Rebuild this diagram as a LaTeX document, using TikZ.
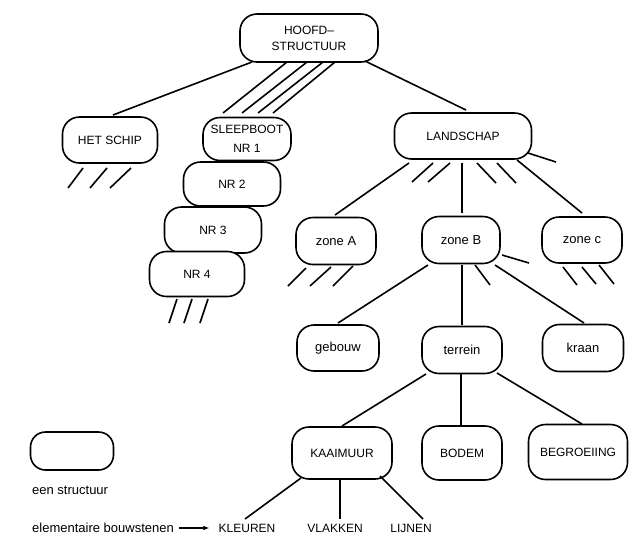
\documentclass[tikz,border=0pt]{standalone}
\usepackage{fontspec}
\setmainfont{Liberation Sans}
\usetikzlibrary{calc,arrows.meta}

\tikzset{
  struct/.style={draw, fill=white, rounded corners=17pt, line width=1.6pt,
    inner sep=0pt, align=center, font=\fontsize{12}{16}\selectfont},
  lower/.style={font=\fontsize{13}{16}\selectfont},
  label/.style={inner sep=0pt, font=\fontsize{12}{14}\selectfont},
  edge/.style={line width=1.6pt},
}

\begin{document}
\begin{tikzpicture}[x=1pt, y=-1pt]
\useasboundingbox (0,0) rectangle (637,539);

% top level
\node[struct, minimum width=138pt, minimum height=48pt] (hoofd) at (309,38) {HOOFD--\\STRUCTUUR};
\node[struct, minimum width=95pt, minimum height=46pt] (schip) at (110,140) {HET SCHIP};
\node[struct, minimum width=137pt, minimum height=46pt] (land) at (463,136) {LANDSCHAP};

% the tugboats, stacked
\node[struct, minimum width=88pt, minimum height=43pt, font=\fontsize{12}{19}\selectfont] (s1) at (247,139) {SLEEPBOOT\\NR 1};
\node[struct, minimum width=97pt, minimum height=44pt] (s2) at (232,184) {NR 2};
\node[struct, minimum width=97pt, minimum height=46pt] (s3) at (213,230) {NR 3};
\node[struct, minimum width=95pt, minimum height=45pt] (s4) at (197,274) {NR 4};

% zones
\node[struct, lower, minimum width=80pt, minimum height=47pt] (za) at (336,241) {zone A};
\node[struct, lower, minimum width=78pt, minimum height=47pt] (zb) at (461,240) {zone B};
\node[struct, lower, minimum width=80pt, minimum height=46pt] (zc) at (582,240) {zone c};

% contents of zone B
\node[struct, lower, minimum width=82pt, minimum height=46pt] (gebouw) at (338,348) {gebouw};
\node[struct, lower, minimum width=80pt, minimum height=47pt] (terrein) at (462,350) {terrein};
\node[struct, lower, minimum width=81pt, minimum height=47pt] (kraan) at (583,348) {kraan};

% contents of terrein
\node[struct, minimum width=100pt, minimum height=52pt] (kaai) at (342,453) {KAAIMUUR};
\node[struct, minimum width=80pt, minimum height=54pt] (bodem) at (462,453) {BODEM};
\node[struct, minimum width=99pt, minimum height=55pt] (begroei) at (578,452) {BEGROEIING};

% elementary building blocks
\node[label] (kleuren) at (247,528) {KLEUREN};
\node[label] (vlakken) at (335,528) {VLAKKEN};
\node[label] (lijnen) at (411,528) {LIJNEN};

% legend
\node[struct, minimum width=83pt, minimum height=38pt, rounded corners=15pt] (legend) at (72,451) {};
\node[label, lower, anchor=west] (legtext) at (32,490) {een structuur};
\node[label, lower, anchor=west] (elem) at (32,528) {elementaire bouwstenen};
\draw[edge, line width=1.1pt, -{Latex[length=6pt,width=4.5pt]}, shorten <=5pt, shorten >=9pt] (elem.east) -- (kleuren.west);

% connectors from the main structure
\draw[edge] ($(hoofd)+(-57,24)$) -- ($(schip)+(3,-25)$);
\foreach \a/\b in {-22/-24, -2/-5, 14/11, 26/26}
  \draw[edge] ($(hoofd)+(\a,24)$) -- ($(s1)+(\b,-26)$);
\draw[edge] ($(hoofd)+(56,23)$) -- ($(land)+(3,-26)$);

% open ends under HET SCHIP and NR 4
\draw[edge] ($(schip)+(-27,28)$) -- ++(-15,20);
\draw[edge] ($(schip)+(-3,28)$) -- ++(-17,20);
\draw[edge] ($(schip)+(21,28)$) -- ++(-21,20);
\foreach \dx in {-20,-5,11}
  \draw[edge] ($(s4)+(\dx,25)$) -- ++(-8,24);

% connectors from LANDSCHAP
\draw[edge] ($(land)+(-54,27)$) -- ($(za)+(-1,-26)$);
\draw[edge] ($(land)+(-1,27)$) -- ($(zb)+(1,-27)$);
\draw[edge] ($(land)+(54,24)$) -- ($(zc)+(0,-27)$);
\draw[edge] ($(land)+(65,17)$) -- ++(28,9);
\draw[edge] ($(land)+(-30,27)$) -- ++(-21,19);
\draw[edge] ($(land)+(-13,27)$) -- ++(-22,19);
\draw[edge] ($(land)+(14,27)$) -- ++(19,20);
\draw[edge] ($(land)+(34,27)$) -- ++(19,20);

% open ends under zone A and zone c
\draw[edge] ($(za)+(-30,27)$) -- ++(-18,18);
\draw[edge] ($(za)+(-5,26)$) -- ++(-21,19);
\draw[edge] ($(za)+(17,25)$) -- ++(-20,20);
\draw[edge] ($(zc)+(-19,27)$) -- ++(14,18);
\draw[edge] ($(zc)+(0,27)$) -- ++(14,17);
\draw[edge] ($(zc)+(17,25)$) -- ++(15,19);

% connectors from zone B
\draw[edge] ($(zb)+(-33,25)$) -- ($(gebouw)+(0,-25)$);
\draw[edge] ($(zb)+(1,25)$) -- ($(terrein)+(0,-25)$);
\draw[edge] ($(zb)+(34,25)$) -- ($(kraan)+(1,-25)$);
\draw[edge] ($(zb)+(14,25)$) -- ++(15,20);
\draw[edge] ($(zb)+(41,15)$) -- ++(27,8);

% connectors from terrein
\draw[edge] ($(terrein)+(-36,24)$) -- ($(kaai)+(0,-27)$);
\draw[edge] ($(terrein)+(-1,24)$) -- ($(bodem)+(-1,-27)$);
\draw[edge] ($(terrein)+(35,23)$) -- ($(begroei)+(4,-28)$);

% connectors from KAAIMUUR
\draw[edge] ($(kaai)+(-41,25)$) -- ($(kleuren)+(-2,-9)$);
\draw[edge] ($(kaai)+(-2,27)$) -- ($(vlakken)+(5,-9)$);
\draw[edge] ($(kaai)+(38,23)$) -- ($(lijnen)+(12,-9)$);
\end{tikzpicture}
\end{document}
